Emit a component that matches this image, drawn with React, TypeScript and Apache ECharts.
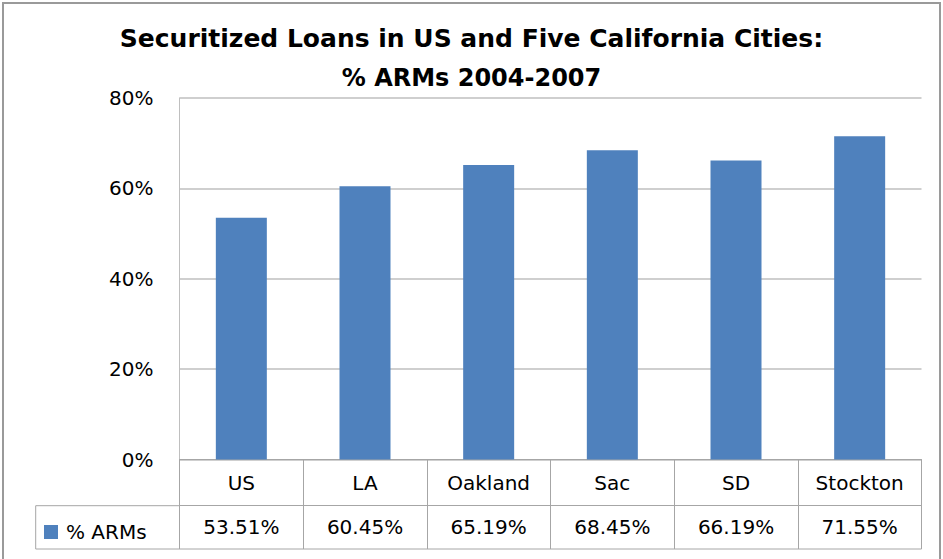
import React, { useEffect, useRef } from "react";
import * as echarts from "echarts";

const categories = ["US", "LA", "Oakland", "Sac", "SD", "Stockton"];
const armShare = [53.51, 60.45, 65.19, 68.45, 66.19, 71.55];
const seriesName = "% ARMs";
const titleLine1 = "Securitized Loans in US and Five California Cities:";
const titleLine2 = "% ARMs 2004-2007";

const FONT = "DejaVu Sans";
const W = 943;
const H = 559;
const PLOT_L = 179.5;
const PLOT_R = 921.5;
const PLOT_T = 98;
const PLOT_B = 459.5;
const ROW1 = 46.2;
const ROW2 = 43.3;
const TABLE_L = 35.7;
const LINE = "#a6a6a6";

export default function App() {
  const ref = useRef<HTMLDivElement>(null);
  useEffect(() => {
    if (!ref.current) return;
    const chart = echarts.init(ref.current, undefined, { renderer: "svg" });
    const rowSplit = PLOT_B + ROW1;
    const tableBottom = rowSplit + ROW2;
    chart.setOption({
      animation: false,
      backgroundColor: "#ffffff",
      title: {
        left: "center",
        top: 23,
        text: titleLine1,
        subtext: titleLine2,
        itemGap: 10,
        padding: 0,
        textStyle: { fontFamily: FONT, fontSize: 25, fontWeight: "bold", color: "#000", lineHeight: 30 },
        subtextStyle: { fontFamily: FONT, fontSize: 24, fontWeight: "bold", color: "#000", lineHeight: 30 },
      },
      legend: {
        left: 44,
        top: 522,
        padding: 0,
        itemWidth: 14,
        itemHeight: 14,
        icon: "rect",
        data: [seriesName],
        selectedMode: false,
        textStyle: { fontFamily: FONT, fontSize: 20, color: "#000", padding: [0, 0, 0, 3] },
      },
      grid: {
        left: PLOT_L,
        right: W - PLOT_R,
        top: PLOT_T,
        bottom: H - PLOT_B,
        containLabel: false,
      },
      xAxis: [
        {
          type: "category",
          data: categories,
          position: "bottom",
          axisLine: { show: true, lineStyle: { color: LINE, width: 1 } },
          axisTick: { show: true, length: ROW1, lineStyle: { color: LINE, width: 1 } },
          axisLabel: {
            fontFamily: FONT,
            fontSize: 20,
            color: "#000",
            margin: ROW1 / 2,
            verticalAlign: "middle",
            interval: 0,
          },
        },
        {
          type: "category",
          data: armShare.map((v) => v.toFixed(2) + "%"),
          position: "bottom",
          offset: ROW1,
          axisLine: { show: true, lineStyle: { color: LINE, width: 1 } },
          axisTick: { show: true, length: ROW2, lineStyle: { color: LINE, width: 1 } },
          axisLabel: {
            fontFamily: FONT,
            fontSize: 20,
            color: "#000",
            margin: ROW2 / 2,
            verticalAlign: "middle",
            interval: 0,
          },
        },
      ],
      yAxis: {
        type: "value",
        min: 0,
        max: 80,
        interval: 20,
        axisLine: { show: true, lineStyle: { color: "#bfbfbf", width: 1 } },
        axisTick: { show: false },
        splitLine: { show: true, lineStyle: { color: "#bfbfbf", width: 1.5 } },
        axisLabel: {
          formatter: "{value}%",
          fontFamily: FONT,
          fontSize: 20,
          color: "#000",
          margin: 26,
        },
      },
      series: [
        {
          name: seriesName,
          type: "bar",
          xAxisIndex: 0,
          data: armShare,
          barWidth: 51,
          itemStyle: { color: "#4f81bd" },
        },
      ],
      graphic: [
        {
          type: "rect",
          shape: { x: 3, y: 3, width: 937, height: 620 },
          style: { fill: "none", stroke: "#9a9a9a", lineWidth: 2 },
          silent: true,
        },
        {
          type: "polyline",
          shape: {
            points: [
              [PLOT_L, rowSplit],
              [TABLE_L, rowSplit],
              [TABLE_L, tableBottom],
              [PLOT_R, tableBottom],
            ],
          },
          style: { fill: "none", stroke: LINE, lineWidth: 1 },
          silent: true,
        },
      ],
    });
    return () => chart.dispose();
  }, []);
  return (
    <div
      ref={ref}
      style={{ position: "fixed", left: 0, top: 0, width: W, height: H }}
    />
  );
}
